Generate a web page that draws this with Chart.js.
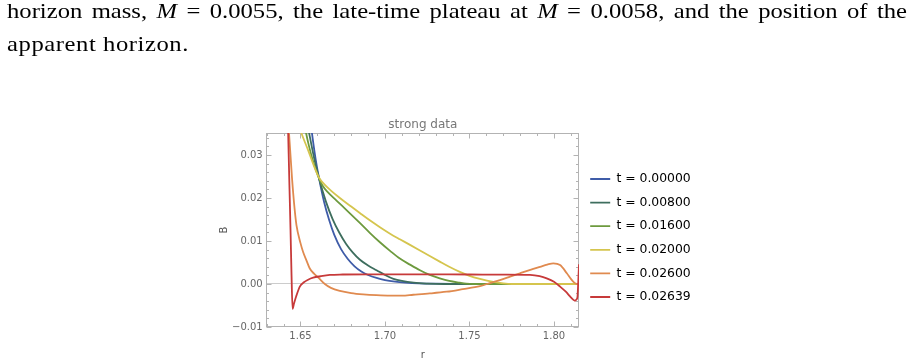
<!DOCTYPE html>
<html>
<head>
<meta charset="utf-8">
<script src="https://cdn.jsdelivr.net/npm/chart.js@4"></script>
<style>
  html, body { margin: 0; padding: 0; background: #fff; }
  body { width: 914px; height: 364px; position: relative; overflow: hidden; }
  #chart { position: absolute; left: 0; top: 0; }
  .txt {
    position: absolute; left: 7px;
    font-family: "Liberation Serif", serif; font-size: 22px; line-height: 24px;
    white-space: nowrap; color: #000; transform-origin: 0 0;
  }
</style>
</head>
<body>
<canvas id="chart" width="914" height="364"></canvas>
<div id="line1" class="txt" style="top: -1px">horizon mass, <i>M</i> = 0.0055, the late-time plateau at <i>M</i> = 0.0058, and the position of the</div>
<div id="line2" class="txt" style="top: 32px; letter-spacing: 0.5px">apparent horizon.</div>
<script>
// series: r values and B values for each time slice
var r_t0 = [1.655, 1.6565, 1.659, 1.661, 1.664, 1.667, 1.670, 1.674, 1.678, 1.682, 1.686, 1.690, 1.695, 1.700, 1.706, 1.712, 1.720, 1.730, 1.740, 1.760, 1.8148];
var B_t0 = [0.0407, 0.0359, 0.0289, 0.0245, 0.0190, 0.0148, 0.0114, 0.0081, 0.0058, 0.0041, 0.0029, 0.0021, 0.0014, 0.0009, 0.00054, 0.00033, 0.00016, 0.00007, 0.00003, 0, 0];

var r_t1 = [1.654, 1.6552, 1.658, 1.661, 1.665, 1.669, 1.673, 1.677, 1.681, 1.685, 1.690, 1.695, 1.700, 1.705, 1.710, 1.717, 1.725, 1.735, 1.8148];
var B_t1 = [0.0374, 0.0349, 0.0294, 0.0245, 0.0192, 0.0151, 0.0119, 0.0093, 0.0073, 0.0057, 0.0043, 0.0032, 0.0021, 0.0012, 0.0007, 0.0003, 0.0001, 0, 0];

var r_t2 = [1.651, 1.6533, 1.655, 1.657, 1.659, 1.661, 1.663, 1.666, 1.6713, 1.678, 1.6851, 1.691, 1.697, 1.703, 1.7088, 1.7148, 1.7207, 1.7265, 1.7324, 1.738, 1.7443, 1.748, 1.752, 1.8148];
var B_t2 = [0.0400, 0.0351, 0.0321, 0.0291, 0.0266, 0.0245, 0.0229, 0.0214, 0.0194, 0.0169, 0.0142, 0.0119, 0.0097, 0.0077, 0.0059, 0.0045, 0.0032, 0.0021, 0.0013, 0.0007, 0.0003, 0.0001, 0, 0];

var r_t3 = [1.648, 1.6505, 1.6546, 1.658, 1.661, 1.664, 1.668, 1.6733, 1.680, 1.6851, 1.691, 1.697, 1.703, 1.7088, 1.7148, 1.7207, 1.7265, 1.7324, 1.738, 1.7443, 1.750, 1.7562, 1.7641, 1.770, 1.775, 1.8148];
var B_t3 = [0.0380, 0.0351, 0.0310, 0.0274, 0.0247, 0.0232, 0.0217, 0.0200, 0.0180, 0.0165, 0.0148, 0.0132, 0.0117, 0.0104, 0.0091, 0.0078, 0.0065, 0.0052, 0.0040, 0.0028, 0.0019, 0.0012, 0.0005, 0.00015, 0, 0];

var r_t4 = [1.6425, 1.6432, 1.645, 1.6465, 1.6476, 1.650, 1.6515, 1.6535, 1.6555, 1.658, 1.6604, 1.6644, 1.668, 1.6733, 1.680, 1.6871, 1.695, 1.7029, 1.710, 1.7167, 1.7265, 1.7365, 1.746, 1.7562, 1.762, 1.768, 1.774, 1.7799, 1.786, 1.7918, 1.796, 1.7996, 1.8036, 1.8076, 1.810, 1.8115, 1.8135, 1.8148];
var B_t4 = [0.0400, 0.0351, 0.0245, 0.0175, 0.0137, 0.0095, 0.0075, 0.0055, 0.0036, 0.0024, 0.00155, 0.0, -0.0009, -0.0016, -0.0021, -0.0024, -0.0026, -0.0027, -0.0027, -0.0025, -0.0022, -0.0018, -0.0012, -0.0005, 0.0002, 0.0009, 0.0017, 0.0025, 0.0033, 0.0040, 0.0045, 0.0048, 0.0044, 0.0025, 0.0012, 0.0005, 0, 0];

var r_t5 = [1.6424, 1.6427, 1.6435, 1.6441, 1.6447, 1.6453, 1.6462, 1.6475, 1.6496, 1.652, 1.6545, 1.6575, 1.662, 1.6674, 1.675, 1.690, 1.720, 1.750, 1.770, 1.7858, 1.7915, 1.7957, 1.800, 1.8036, 1.807, 1.8095, 1.8115, 1.8125, 1.8133, 1.8139, 1.8143, 1.8148];
var B_t5 = [0.0400, 0.0351, 0.0220, 0.0125, 0.0020, -0.0058, -0.0045, -0.0028, -0.0006, 0.0004, 0.0010, 0.00146, 0.0018, 0.0021, 0.0022, 0.00224, 0.00224, 0.0022, 0.00218, 0.0021, 0.0018, 0.0013, 0.0005, -0.0006, -0.0018, -0.0029, -0.0037, -0.0039, -0.0036, -0.0030, 0.0000, 0.0046];

var seriesLabels = ["t = 0.00000", "t = 0.00800", "t = 0.01600", "t = 0.02000", "t = 0.02600", "t = 0.02639"];
var seriesColors = ["#3f5ca8", "#3e6e5e", "#6d9a3e", "#d5c54e", "#e08a4f", "#c73a3a"];

var xTicks = [1.65, 1.70, 1.75, 1.80];
var xTickLabels = ["1.65", "1.70", "1.75", "1.80"];
var yTicks = [-0.01, 0, 0.01, 0.02, 0.03];
var yTickLabels = ["\u22120.01", "0.00", "0.01", "0.02", "0.03"];

var rAll = [r_t0, r_t1, r_t2, r_t3, r_t4, r_t5];
var bAll = [B_t0, B_t1, B_t2, B_t3, B_t4, B_t5];

// top text lines (paper excerpt)
var line1 = document.getElementById("line1");
var line2 = document.getElementById("line2");
var textScale = 1.12;
var natural = line1.getBoundingClientRect().width;
var spaces = line1.textContent.split(" ").length - 1;
line1.style.wordSpacing = ((900 / textScale - natural) / spaces) + "px";
line1.style.transform = "scaleX(" + textScale + ")";
line2.style.transform = "scaleX(" + textScale + ")";

Chart.defaults.font.family = "'DejaVu Sans', sans-serif";

// legend sits right of the plot, plot right edge at x = 579
var legendFont = 12.4;
var legendPad = 11.2;
var measure = document.createElement("canvas").getContext("2d");
measure.font = legendFont + "px 'DejaVu Sans', sans-serif";
var legendText = 0;
seriesLabels.forEach(function (s) {
  legendText = Math.max(legendText, measure.measureText(s).width);
});
var legendWidth = 20 + legendFont / 2 + legendText + legendPad + 10;
var rightPad = 914 - 579 - legendWidth;

// frame with major + minor ticks on all four sides, ticks pointing inwards
var frameTicks = {
  id: "frameTicks",
  beforeDatasetsDraw: function (chart) {
    var ctx = chart.ctx;
    var a = chart.chartArea;
    var xs = chart.scales.x;
    var ys = chart.scales.y;
    var left = Math.floor(a.left) + 0.5;
    var right = Math.round(a.right) - 0.5;
    var top = Math.round(a.top) + 0.5;
    var bottom = Math.round(a.bottom) - 0.5;
    ctx.save();
    ctx.strokeStyle = "#b3b3b3";
    ctx.lineWidth = 1;
    ctx.strokeRect(left, top, right - left, bottom - top);
    ctx.beginPath();
    for (var i = 163; i <= 181; i++) {
      var px = Math.round(xs.getPixelForValue(i / 100)) + 0.5;
      var len = i % 5 === 0 ? 5 : 2.5;
      ctx.moveTo(px, bottom);
      ctx.lineTo(px, bottom - len);
      ctx.moveTo(px, top);
      ctx.lineTo(px, top + len);
    }
    for (var j = -5; j <= 17; j++) {
      var py = Math.round(ys.getPixelForValue(j * 0.002)) + 0.5;
      var len2 = j % 5 === 0 ? 5 : 2.5;
      ctx.moveTo(left, py);
      ctx.lineTo(left + len2, py);
      ctx.moveTo(right, py);
      ctx.lineTo(right - len2, py);
    }
    ctx.stroke();
    ctx.restore();
  }
};

var datasets = [];
for (var k = 0; k < seriesLabels.length; k++) {
  var pts = [];
  for (var m = 0; m < rAll[k].length; m++) {
    pts.push({ x: rAll[k][m], y: bAll[k][m] });
  }
  datasets.push({
    label: seriesLabels[k],
    data: pts,
    borderColor: seriesColors[k],
    backgroundColor: seriesColors[k],
    borderWidth: 1.8,
    pointRadius: 0,
    fill: false,
    cubicInterpolationMode: "monotone",
    order: seriesLabels.length - k
  });
}

new Chart(document.getElementById("chart"), {
  type: "line",
  data: { datasets: datasets },
  plugins: [frameTicks],
  options: {
    responsive: false,
    animation: false,
    devicePixelRatio: 1,
    layout: { padding: { left: 210, right: rightPad, top: 112, bottom: 0 } },
    plugins: {
      tooltip: { enabled: false },
      title: {
        display: true,
        text: "strong data",
        fullSize: false,
        color: "#777777",
        font: { size: 12, weight: "normal" },
        padding: { top: 5.3, bottom: 1.3 }
      },
      legend: {
        position: "right",
        align: "center",
        labels: {
          usePointStyle: true,
          pointStyle: "line",
          pointStyleWidth: 20,
          padding: legendPad,
          color: "#000000",
          font: { size: legendFont },
          sort: function (a, b) { return a.datasetIndex - b.datasetIndex; }
        }
      }
    },
    scales: {
      x: {
        type: "linear",
        min: 1.63,
        max: 1.8148,
        afterBuildTicks: function (scale) {
          scale.ticks = xTicks.map(function (v) { return { value: v }; });
        },
        afterFit: function (scale) { scale.height = 37; },
        ticks: {
          padding: 3.5,
          color: "#666666",
          font: { size: 10 },
          maxRotation: 0,
          callback: function (value, index) { return xTickLabels[index]; }
        },
        grid: { display: false, drawTicks: false },
        border: { display: false },
        title: {
          display: true,
          text: "r",
          color: "#555555",
          font: { size: 10 },
          padding: { top: 0, bottom: 3 }
        }
      },
      y: {
        type: "linear",
        min: -0.01,
        max: 0.0351,
        afterBuildTicks: function (scale) {
          scale.ticks = yTicks.map(function (v) { return { value: v }; });
        },
        afterFit: function (scale) { scale.width = 56.7; },
        ticks: {
          padding: 4,
          color: "#666666",
          font: { size: 10 },
          callback: function (value, index) { return yTickLabels[index]; }
        },
        grid: {
          drawTicks: false,
          color: function (c) { return c.tick && c.tick.value === 0 ? "#cccccc" : "rgba(0,0,0,0)"; }
        },
        border: { display: false },
        title: {
          display: true,
          text: "B",
          color: "#555555",
          font: { size: 10 },
          padding: { top: 8, bottom: 0 }
        }
      }
    }
  }
});
</script>
</body>
</html>
